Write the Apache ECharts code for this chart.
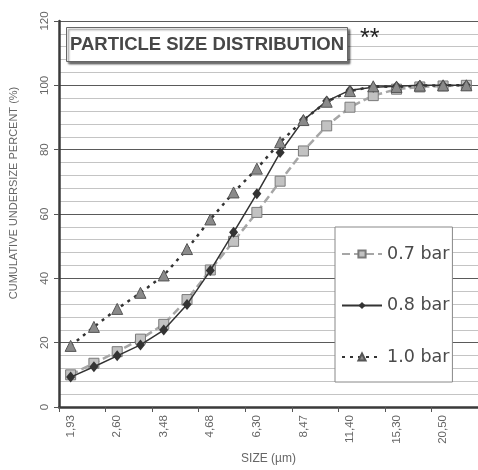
<!DOCTYPE html>
<html>
<head>
<meta charset="utf-8">
<script src="https://cdn.jsdelivr.net/npm/echarts@6/dist/echarts.min.js"></script>
<style>
html,body{margin:0;padding:0;background:#fff;}
#c{width:478px;height:470px;}
</style>
</head>
<body>
<div id="c"></div>
<script>
const sizes = ['1,93','2,24','2,60','3,01','3,48','4,04','4,68','5,43','6,30','7,31','8,47','9,83','11,40','13,20','15,30','17,70','20,50','23,80'];
const bar07 = [10.0, 13.6, 17.2, 21.1, 25.7, 33.4, 42.6, 51.5, 60.5, 70.2, 79.6, 87.4, 93.2, 96.8, 98.8, 99.5, 99.8, 100];
const bar08 = [9.3, 12.5, 15.9, 19.3, 23.9, 31.9, 42.4, 54.3, 66.3, 79.1, 89.2, 95.1, 98.5, 99.4, 99.7, 100, 100, 100];
const bar10 = [19.0, 24.9, 30.5, 35.5, 40.9, 49.1, 58.3, 66.7, 74.1, 82.3, 89.2, 94.9, 98.2, 99.7, 99.5, 99.9, 100, 100];
const seriesNames = ['0.7 bar', '0.8 bar', '1.0 bar'];

const chart = echarts.init(document.getElementById('c'), null, {renderer: 'canvas'});
chart.setOption({
  animation: false,
  backgroundColor: '#fff',
  title: [
    {
      text: 'PARTICLE SIZE DISTRIBUTION',
      left: 66, top: 27,
      padding: [8, 4, 8, 4],
      backgroundColor: '#fff',
      borderColor: '#666',
      borderWidth: 1,
      shadowColor: 'rgba(0,0,0,0.55)',
      shadowBlur: 2,
      shadowOffsetX: 2,
      shadowOffsetY: 2,
      textStyle: {fontFamily: 'Liberation Sans', fontWeight: 'bold', fontSize: 18.5, color: '#474747'}
    },
    {
      text: '**',
      left: 360, top: 27,
      padding: 0,
      textStyle: {fontFamily: 'Liberation Sans', fontWeight: 'normal', fontSize: 25, color: '#222'}
    }
  ],
  legend: {
    data: seriesNames,
    orient: 'vertical',
    left: 335, top: 227,
    padding: [18, 3, 16, 6],
    itemGap: 33.5,
    itemWidth: 40,
    itemHeight: 9,
    backgroundColor: '#fff',
    borderColor: '#888',
    borderWidth: 1,
    textStyle: {fontFamily: 'DejaVu Sans', fontSize: 17.5, color: '#4a4a4a'}
  },
  grid: {left: 56.5, right: -3, top: 21, bottom: 60, containLabel: false},
  xAxis: {
    type: 'category',
    data: sizes,
    boundaryGap: true,
    name: 'SIZE (µm)',
    nameLocation: 'middle',
    nameGap: 46,
    nameTextStyle: {fontFamily: 'Liberation Sans', fontSize: 12, color: '#666'},
    axisLine: {lineStyle: {color: '#3a3a3a', width: 2.5}},
    axisTick: {show: true, length: 5, lineStyle: {color: '#555', width: 1}},
    axisLabel: {interval: 1, rotate: 90, margin: 8, fontFamily: 'Liberation Sans', fontSize: 11.5, color: '#666'},
    splitLine: {show: false}
  },
  yAxis: {
    type: 'value',
    min: 0, max: 120, interval: 20,
    name: 'CUMULATIVE UNDERSIZE PERCENT (%)',
    nameLocation: 'middle',
    nameGap: 40,
    nameTextStyle: {fontFamily: 'Liberation Sans', fontSize: 11, color: '#666', padding: [0, 0, 0, 42]},
    axisLine: {show: true, lineStyle: {color: '#3a3a3a', width: 2.5}},
    axisTick: {show: true, length: 5, lineStyle: {color: '#555', width: 1}},
    axisLabel: {rotate: 90, margin: 8, fontFamily: 'Liberation Sans', fontSize: 11.5, color: '#666'},
    splitLine: {show: true, lineStyle: {color: '#5a5a5a', width: 1}},
    minorTick: {show: false, splitNumber: 5},
    minorSplitLine: {show: true, lineStyle: {color: '#c4c4c4', width: 1}}
  },
  series: [
    {
      name: seriesNames[0], type: 'line', data: bar07,
      symbol: 'rect', symbolSize: 10,
      itemStyle: {color: '#c2c2c2', borderColor: '#7a7a7a', borderWidth: 1},
      lineStyle: {color: '#a6a6a6', width: 2.5, type: [8, 4]},
      z: 2
    },
    {
      name: seriesNames[1], type: 'line', data: bar08,
      symbol: 'diamond', symbolSize: [9, 11],
      itemStyle: {color: '#333', borderColor: '#333', borderWidth: 0},
      lineStyle: {color: '#333', width: 1.5, type: 'solid'},
      z: 3
    },
    {
      name: seriesNames[2], type: 'line', data: bar10,
      symbol: 'triangle', symbolSize: 11,
      itemStyle: {color: '#8a8a8a', borderColor: '#555', borderWidth: 1},
      lineStyle: {color: '#333', width: 2.5, type: [3, 5]},
      z: 4
    }
  ]
});
</script>
</body>
</html>
